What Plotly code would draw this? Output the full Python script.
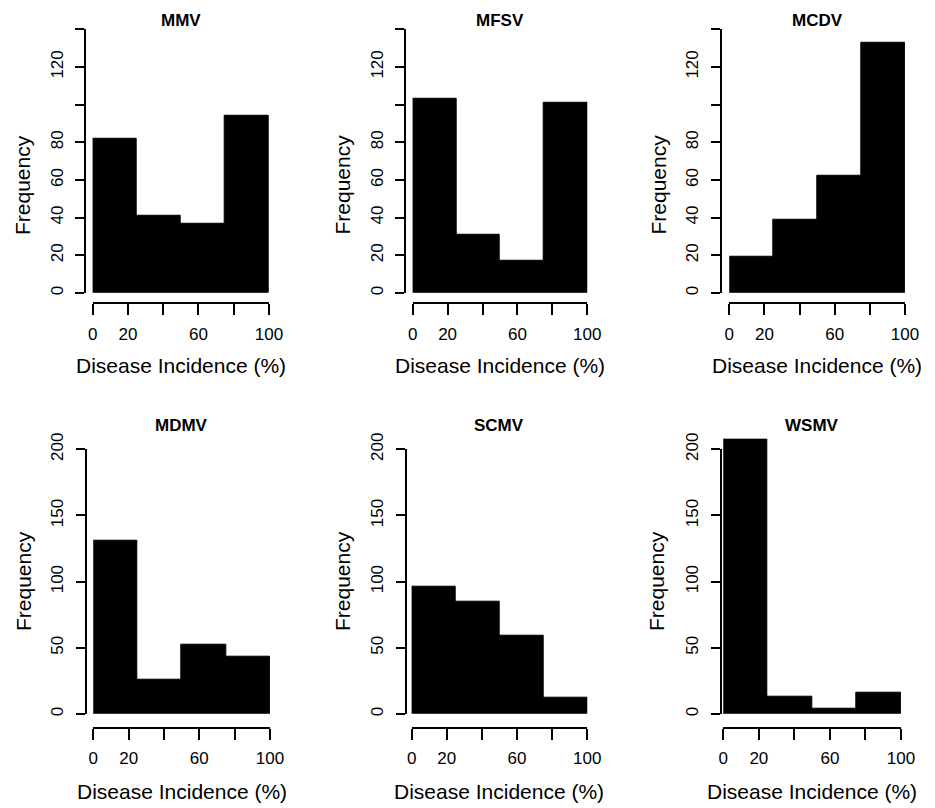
import plotly.graph_objects as go

# ---------------- data ----------------
viruses = ["MMV", "MFSV", "MCDV", "MDMV", "SCMV", "WSMV"]
bin_edges = [0, 25, 50, 75, 100]
counts_mmv = [82, 41, 37, 94]
counts_mfsv = [103, 31, 17, 101]
counts_mcdv = [19, 39, 62, 133]
counts_mdmv = [131, 26, 52, 43]
counts_scmv = [96, 85, 59, 12]
counts_wsmv = [208, 13, 4, 16]
all_counts = [counts_mmv, counts_mfsv, counts_mcdv, counts_mdmv, counts_scmv, counts_wsmv]

x_tickvals = [0, 20, 40, 60, 80, 100]
x_ticktext = ["0", "20", "", "60", "", "100"]
y_top_tickvals = [0, 20, 40, 60, 80, 100, 120, 140]
y_top_ticktext = ["0", "20", "40", "60", "80", "", "120", ""]
y_bot_tickvals = [0, 50, 100, 150, 200]
y_bot_ticktext = ["0", "50", "100", "150", "200"]
ylims = [140, 140, 140, 200, 200, 200]

x_title = "Disease Incidence (%)"
y_title = "Frequency"

# ---------------- layout geometry (pixels) ----------------
W, H = 935, 808
FONT = "Liberation Sans, Arial, Helvetica, sans-serif"

px_x0 = [92.7, 412.7, 729.3, 93.3, 411.7, 723.3]
px_x100 = [269.0, 587.3, 905.0, 270.0, 587.3, 901.0]
px_yline = [85.3, 405.3, 721.0, 86.0, 406.0, 721.0]
px_y0 = [293.0, 293.0, 293.0, 714.0, 714.0, 714.0]
px_ylim = [29.3, 29.3, 29.3, 449.3, 449.3, 449.3]
px_xline = [303.3, 303.3, 303.3, 727.7, 727.7, 727.7]
px_title_y = [20.5, 20.5, 20.5, 425.0, 425.0, 425.0]
px_xtitle_y = [366.0, 366.0, 366.0, 791.0, 791.0, 791.0]
px_ytitle_x = [23.0, 342.5, 658.5, 23.0, 342.0, 656.0]
px_ytitle_y = [185.0, 185.0, 185.0, 581.0, 581.0, 581.0]


def fx(p):
    return p / W


def fy(p):
    return 1 - p / H


fig = go.Figure()
centers = [(bin_edges[k] + bin_edges[k + 1]) / 2 for k in range(len(bin_edges) - 1)]
widths = [bin_edges[k + 1] - bin_edges[k] for k in range(len(bin_edges) - 1)]

layout = dict(
    width=W, height=H,
    margin=dict(l=0, r=0, t=0, b=0, pad=0, autoexpand=False),
    paper_bgcolor="white", plot_bgcolor="rgba(0,0,0,0)",
    showlegend=False, bargap=0,
    font=dict(family=FONT, color="black", size=17),
)
annotations = []

for i in range(6):
    n_bar = i + 1
    n_ax = i + 7
    ylim = ylims[i]
    top_region = px_y0[i] - 1.04 * (px_y0[i] - px_ylim[i])
    xdom = [fx(px_x0[i]), fx(px_x100[i])]

    # bars (hidden axes, R-like plot region)
    fig.add_trace(go.Bar(
        x=centers, y=all_counts[i], width=widths,
        marker=dict(color="black", line=dict(color="black", width=1)),
        xaxis=f"x{n_bar}", yaxis=f"y{n_bar}", hoverinfo="x+y",
    ))
    layout[f"xaxis{n_bar}"] = dict(domain=xdom, range=[0, 100], visible=False,
                                   anchor=f"y{n_bar}", fixedrange=True, automargin=False)
    layout[f"yaxis{n_bar}"] = dict(domain=[fy(px_y0[i]), fy(top_region)],
                                   range=[0, 1.04 * ylim], visible=False,
                                   anchor=f"x{n_bar}", fixedrange=True, automargin=False)

    # displayed R-style detached axes
    fig.add_trace(go.Scatter(x=[None], y=[None], mode="markers",
                             xaxis=f"x{n_ax}", yaxis=f"y{n_ax}", hoverinfo="skip"))
    layout[f"xaxis{n_ax}"] = dict(
        domain=xdom, range=[0, 100], anchor="free", position=fy(px_xline[i]),
        showline=True, linewidth=2, linecolor="black",
        ticks="outside", ticklen=11, tickwidth=2, tickcolor="black",
        tickvals=x_tickvals, ticktext=x_ticktext, ticklabelstandoff=4,
        showgrid=False, zeroline=False, fixedrange=True, automargin=False,
        tickfont=dict(family=FONT, size=17, color="black"),
    )
    if i < 3:
        tv, tt = y_top_tickvals, y_top_ticktext
    else:
        tv, tt = y_bot_tickvals, y_bot_ticktext
    layout[f"yaxis{n_ax}"] = dict(
        domain=[fy(px_y0[i]), fy(px_ylim[i])], range=[0, ylim],
        anchor="free", position=fx(px_yline[i]),
        showline=True, linewidth=2, linecolor="black",
        ticks="outside", ticklen=9, tickwidth=2, tickcolor="black",
        tickvals=tv, ticktext=tt, tickangle=-90, ticklabelstandoff=6,
        showgrid=False, zeroline=False, fixedrange=True, automargin=False,
        tickfont=dict(family=FONT, size=17, color="black"),
    )

    # texts
    annotations.append(dict(
        text=f"<b>{viruses[i]}</b>", xref="paper", yref="paper",
        x=(xdom[0] + xdom[1]) / 2, y=fy(px_title_y[i]),
        xanchor="center", yanchor="middle", showarrow=False,
        font=dict(family=FONT, size=17, color="black"),
    ))
    annotations.append(dict(
        text=x_title, xref="paper", yref="paper",
        x=(xdom[0] + xdom[1]) / 2, y=fy(px_xtitle_y[i]),
        xanchor="center", yanchor="middle", showarrow=False,
        font=dict(family=FONT, size=21, color="black"),
    ))
    annotations.append(dict(
        text=y_title, xref="paper", yref="paper",
        x=fx(px_ytitle_x[i]), y=fy(px_ytitle_y[i]), textangle=-90,
        xanchor="center", yanchor="middle", showarrow=False,
        font=dict(family=FONT, size=21, color="black"),
    ))

layout["annotations"] = annotations
fig.update_layout(**layout)
fig.write_html(
    "out.html",
    config={"displayModeBar": False},
    post_script="document.body.style.margin='0';document.body.style.overflow='hidden';",
)
